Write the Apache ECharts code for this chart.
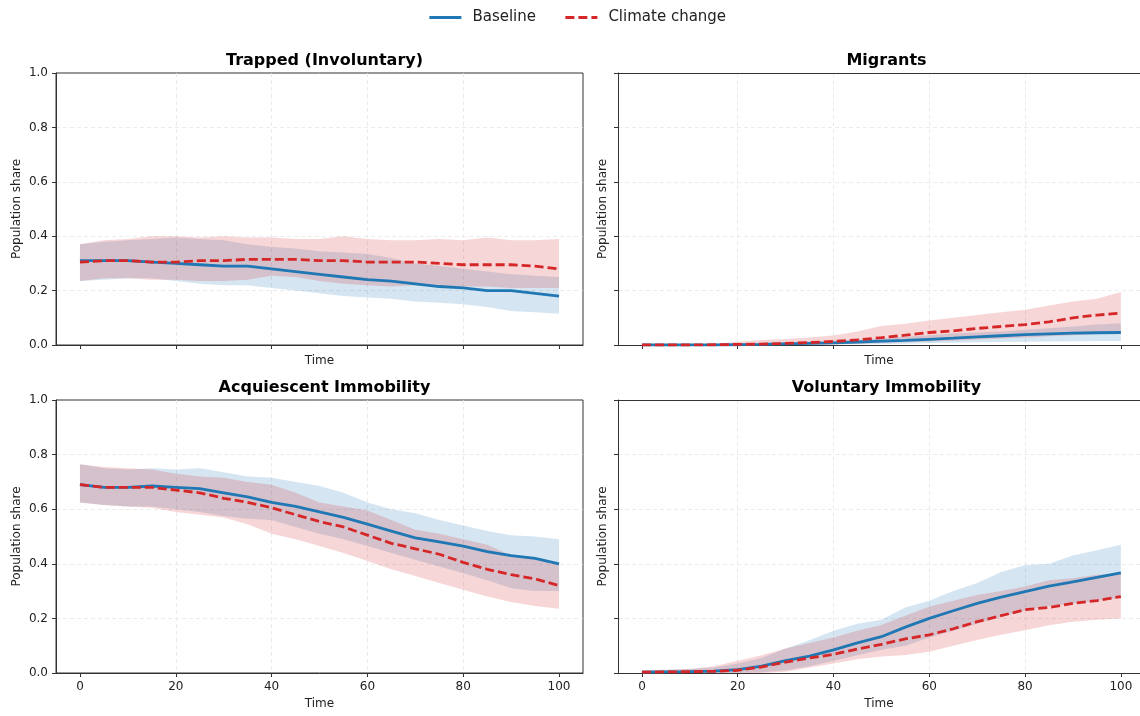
<!DOCTYPE html>
<html>
<head>
<meta charset="utf-8">
<script src="https://cdn.jsdelivr.net/npm/echarts@6/dist/echarts.min.js"></script>
<style>
  html, body { margin: 0; padding: 0; background: #fff; }
  #chart { width: 1140px; height: 716px; }
</style>
</head>
<body>
<div id="chart"></div>
<script>
// time steps (sampled every 5)
const time = [0, 5, 10, 15, 20, 25, 30, 35, 40, 45, 50, 55, 60, 65, 70, 75, 80, 85, 90, 95, 100];
const xTicks = [0, 20, 40, 60, 80, 100];
const panelTitles = ["Trapped (Involuntary)", "Migrants", "Acquiescent Immobility", "Voluntary Immobility"];

// Trapped (Involuntary)
const trappedBaseMean = [0.31, 0.31, 0.31, 0.305, 0.30, 0.295, 0.29, 0.29, 0.28, 0.27, 0.26, 0.25, 0.24, 0.235, 0.225, 0.215, 0.21, 0.20, 0.20, 0.19, 0.18];
const trappedBaseHigh = [0.37, 0.38, 0.385, 0.39, 0.395, 0.39, 0.385, 0.37, 0.36, 0.355, 0.345, 0.34, 0.335, 0.32, 0.30, 0.29, 0.28, 0.27, 0.26, 0.255, 0.25];
const trappedBaseLow = [0.235, 0.24, 0.245, 0.245, 0.235, 0.225, 0.22, 0.22, 0.21, 0.20, 0.19, 0.18, 0.175, 0.17, 0.16, 0.155, 0.15, 0.14, 0.125, 0.12, 0.115];
const trappedClimMean = [0.305, 0.31, 0.31, 0.305, 0.305, 0.31, 0.31, 0.315, 0.315, 0.315, 0.31, 0.31, 0.305, 0.305, 0.305, 0.30, 0.295, 0.295, 0.295, 0.29, 0.28];
const trappedClimHigh = [0.37, 0.385, 0.39, 0.40, 0.40, 0.395, 0.40, 0.395, 0.395, 0.39, 0.39, 0.40, 0.39, 0.385, 0.385, 0.39, 0.385, 0.395, 0.385, 0.385, 0.39];
const trappedClimLow = [0.235, 0.245, 0.245, 0.24, 0.24, 0.235, 0.235, 0.24, 0.255, 0.25, 0.235, 0.225, 0.22, 0.215, 0.22, 0.215, 0.215, 0.215, 0.21, 0.21, 0.21];

// Migrants
const migrantsBaseMean = [0, 0, 0, 0, 0.001, 0.002, 0.004, 0.006, 0.008, 0.011, 0.014, 0.017, 0.021, 0.025, 0.03, 0.034, 0.038, 0.041, 0.044, 0.045, 0.046];
const migrantsBaseHigh = [0, 0.001, 0.002, 0.003, 0.005, 0.008, 0.01, 0.013, 0.016, 0.02, 0.024, 0.03, 0.036, 0.042, 0.046, 0.05, 0.056, 0.062, 0.068, 0.075, 0.08];
const migrantsBaseLow = [0, 0, 0, 0, 0, 0, 0, 0.001, 0.002, 0.003, 0.004, 0.005, 0.007, 0.008, 0.01, 0.011, 0.012, 0.013, 0.014, 0.015, 0.015];
const migrantsClimMean = [0, 0, 0, 0.001, 0.002, 0.003, 0.006, 0.009, 0.013, 0.019, 0.027, 0.036, 0.046, 0.052, 0.061, 0.068, 0.075, 0.085, 0.10, 0.11, 0.117];
const migrantsClimHigh = [0, 0.001, 0.002, 0.005, 0.012, 0.018, 0.022, 0.028, 0.035, 0.05, 0.07, 0.078, 0.09, 0.10, 0.11, 0.12, 0.13, 0.145, 0.16, 0.17, 0.195];
const migrantsClimLow = [0, 0, 0, 0, 0, 0, 0.001, 0.002, 0.003, 0.005, 0.007, 0.01, 0.013, 0.016, 0.02, 0.024, 0.028, 0.032, 0.036, 0.04, 0.044];

// Acquiescent Immobility
const acqBaseMean = [0.69, 0.68, 0.68, 0.685, 0.68, 0.675, 0.66, 0.645, 0.625, 0.61, 0.59, 0.57, 0.545, 0.52, 0.495, 0.48, 0.465, 0.445, 0.43, 0.42, 0.40];
const acqBaseHigh = [0.765, 0.75, 0.745, 0.75, 0.745, 0.75, 0.735, 0.72, 0.715, 0.70, 0.685, 0.66, 0.625, 0.60, 0.585, 0.56, 0.54, 0.52, 0.505, 0.50, 0.49];
const acqBaseLow = [0.625, 0.615, 0.61, 0.61, 0.60, 0.59, 0.575, 0.565, 0.56, 0.535, 0.51, 0.49, 0.465, 0.44, 0.415, 0.39, 0.365, 0.34, 0.31, 0.30, 0.30];
const acqClimMean = [0.69, 0.68, 0.68, 0.68, 0.67, 0.66, 0.64, 0.625, 0.605, 0.58, 0.555, 0.535, 0.505, 0.475, 0.455, 0.435, 0.405, 0.38, 0.36, 0.345, 0.32];
const acqClimHigh = [0.765, 0.755, 0.75, 0.745, 0.73, 0.72, 0.715, 0.70, 0.69, 0.66, 0.625, 0.61, 0.595, 0.56, 0.525, 0.51, 0.49, 0.47, 0.43, 0.42, 0.40];
const acqClimLow = [0.625, 0.615, 0.61, 0.605, 0.59, 0.58, 0.57, 0.545, 0.51, 0.49, 0.465, 0.44, 0.41, 0.38, 0.355, 0.33, 0.305, 0.28, 0.26, 0.245, 0.235];

// Voluntary Immobility
const volBaseMean = [0.003, 0.004, 0.005, 0.007, 0.012, 0.025, 0.045, 0.062, 0.085, 0.11, 0.133, 0.168, 0.20, 0.228, 0.255, 0.278, 0.298, 0.318, 0.334, 0.35, 0.367];
const volBaseHigh = [0.01, 0.012, 0.015, 0.02, 0.035, 0.055, 0.09, 0.12, 0.155, 0.18, 0.195, 0.24, 0.265, 0.30, 0.33, 0.37, 0.395, 0.40, 0.43, 0.45, 0.47];
const volBaseLow = [0, 0, 0, 0, 0, 0.003, 0.01, 0.025, 0.045, 0.065, 0.085, 0.10, 0.13, 0.155, 0.18, 0.205, 0.23, 0.245, 0.255, 0.265, 0.275];
const volClimMean = [0.003, 0.004, 0.005, 0.006, 0.01, 0.022, 0.04, 0.055, 0.068, 0.088, 0.105, 0.125, 0.14, 0.162, 0.188, 0.21, 0.232, 0.24, 0.255, 0.265, 0.28];
const volClimHigh = [0.01, 0.012, 0.015, 0.025, 0.045, 0.065, 0.09, 0.11, 0.13, 0.155, 0.176, 0.21, 0.243, 0.265, 0.286, 0.30, 0.317, 0.34, 0.347, 0.36, 0.365];
const volClimLow = [0, 0, 0, 0, 0, 0, 0.005, 0.02, 0.035, 0.05, 0.06, 0.066, 0.078, 0.10, 0.121, 0.14, 0.157, 0.175, 0.188, 0.195, 0.2];

const panels = [
  { base: [trappedBaseMean, trappedBaseLow, trappedBaseHigh], clim: [trappedClimMean, trappedClimLow, trappedClimHigh] },
  { base: [migrantsBaseMean, migrantsBaseLow, migrantsBaseHigh], clim: [migrantsClimMean, migrantsClimLow, migrantsClimHigh] },
  { base: [acqBaseMean, acqBaseLow, acqBaseHigh], clim: [acqClimMean, acqClimLow, acqClimHigh] },
  { base: [volBaseMean, volBaseLow, volBaseHigh], clim: [volClimMean, volClimLow, volClimHigh] },
];

const BLUE = "#1f77b4";
const RED = "#d62728";
const FONT = "DejaVu Sans";
const SPINE = "#333";
const GRID_LINE = { color: "#e6e6e6", type: [4, 3], width: 0.8 };

// grid boxes (matplotlib-like layout)
// the right column is cut by the canvas edge in the original, so its x range stops early
const gridPos = [
  { left: 56, top: 73, width: 527, height: 272 },
  { left: 618, top: 73, width: 522, height: 272 },
  { left: 56, top: 400, width: 527, height: 273 },
  { left: 618, top: 400, width: 522, height: 273 },
];
const xMaxLeft = 105;
const xMaxRight = 104;

function pairs(arr) {
  return time.map((t, i) => [t, arr[i]]);
}

// shaded range between low and high, drawn as one polygon through the axes
function bandSeries(idx, low, high, color) {
  return {
    type: "custom",
    xAxisIndex: idx,
    yAxisIndex: idx,
    silent: true,
    z: 2,
    encode: { x: 0, y: [1, 2] },
    data: time.map((t, i) => [t, low[i], high[i]]),
    renderItem: (params, api) => {
      if (params.dataIndex !== 0) {
        return null;
      }
      const top = time.map((t, i) => api.coord([t, high[i]]));
      const bottom = time.map((t, i) => api.coord([t, low[i]])).reverse();
      return {
        type: "polygon",
        shape: { points: top.concat(bottom) },
        style: { fill: color, opacity: 0.19 },
      };
    },
  };
}

function meanSeries(idx, name, arr, color, dashed) {
  return {
    name: name,
    type: "line",
    xAxisIndex: idx,
    yAxisIndex: idx,
    symbol: "none",
    lineStyle: { color: color, width: 2.8, type: dashed ? [9, 4] : "solid" },
    itemStyle: { color: color },
    z: dashed ? 4 : 3,
    data: pairs(arr),
  };
}

const grids = [];
const xAxes = [];
const yAxes = [];
const titles = [];
let series = [];

panels.forEach((p, i) => {
  const isTop = i < 2;
  const isLeft = i % 2 === 0;
  // left column gets a full box; right column draws only its top spine (see below)
  grids.push(Object.assign({ show: isLeft, borderColor: SPINE, borderWidth: 1, backgroundColor: "transparent" }, gridPos[i]));

  xAxes.push({
    gridIndex: i,
    type: "value",
    min: -5,
    max: isLeft ? xMaxLeft : xMaxRight,
    name: "Time",
    nameLocation: "middle",
    nameGap: isTop ? 10 : 25,
    nameTextStyle: { fontFamily: FONT, fontSize: 12, color: "#222", verticalAlign: "top" },
    axisLine: { onZero: false, lineStyle: { color: SPINE, width: 1 } },
    axisTick: { show: true, inside: false, length: 4, lineStyle: { color: SPINE }, customValues: xTicks },
    axisLabel: { show: !isTop, fontFamily: FONT, fontSize: 12, color: "#222", margin: 8, customValues: xTicks },
    splitLine: { show: true, showMinLine: false, showMaxLine: false, lineStyle: GRID_LINE },
  });

  yAxes.push({
    gridIndex: i,
    type: "value",
    min: 0,
    max: 1,
    interval: 0.2,
    name: "Population share",
    nameLocation: "middle",
    nameGap: isLeft ? 33 : 9,
    nameTextStyle: { fontFamily: FONT, fontSize: 12, color: "#222" },
    axisLine: { show: true, onZero: false, lineStyle: { color: SPINE, width: 1 } },
    axisTick: { show: true, inside: false, length: 4, lineStyle: { color: SPINE } },
    axisLabel: {
      show: isLeft,
      fontFamily: FONT,
      fontSize: 12,
      color: "#222",
      margin: 8,
      formatter: (v) => v.toFixed(1),
    },
    splitLine: { show: true, showMinLine: false, showMaxLine: false, lineStyle: GRID_LINE },
  });

  titles.push({
    text: panelTitles[i],
    left: gridPos[i].left + 263.5,
    top: isTop ? 48 : 375,
    textAlign: "center",
    textStyle: { fontFamily: FONT, fontSize: 16, fontWeight: "bold", color: "#000" },
  });

  series.push(bandSeries(i, p.base[1], p.base[2], BLUE));
  series.push(bandSeries(i, p.clim[1], p.clim[2], RED));
  series.push(meanSeries(i, "Baseline", p.base[0], BLUE, false));
  series.push(meanSeries(i, "Climate change", p.clim[0], RED, true));
});

// top spine for the right column
[1, 3].forEach((g) => {
  xAxes.push({
    gridIndex: g,
    type: "value",
    position: "top",
    min: -5,
    max: xMaxRight,
    axisLine: { show: true, onZero: false, lineStyle: { color: SPINE, width: 1 } },
    axisTick: { show: false },
    axisLabel: { show: false },
    splitLine: { show: false },
  });
});

const chart = echarts.init(document.getElementById("chart"));
chart.setOption({
  animation: false,
  backgroundColor: "#fff",
  title: titles,
  legend: {
    data: ["Baseline", "Climate change"],
    top: 5,
    left: 423,
    itemWidth: 32,
    itemHeight: 10,
    itemGap: 28,
    itemStyle: { opacity: 0 },
    lineStyle: { width: 2.8 },
    textStyle: { fontFamily: FONT, fontSize: 15, color: "#222", padding: [0, 0, 0, 6] },
  },
  grid: grids,
  xAxis: xAxes,
  yAxis: yAxes,
  series: series,
});
</script>
</body>
</html>
